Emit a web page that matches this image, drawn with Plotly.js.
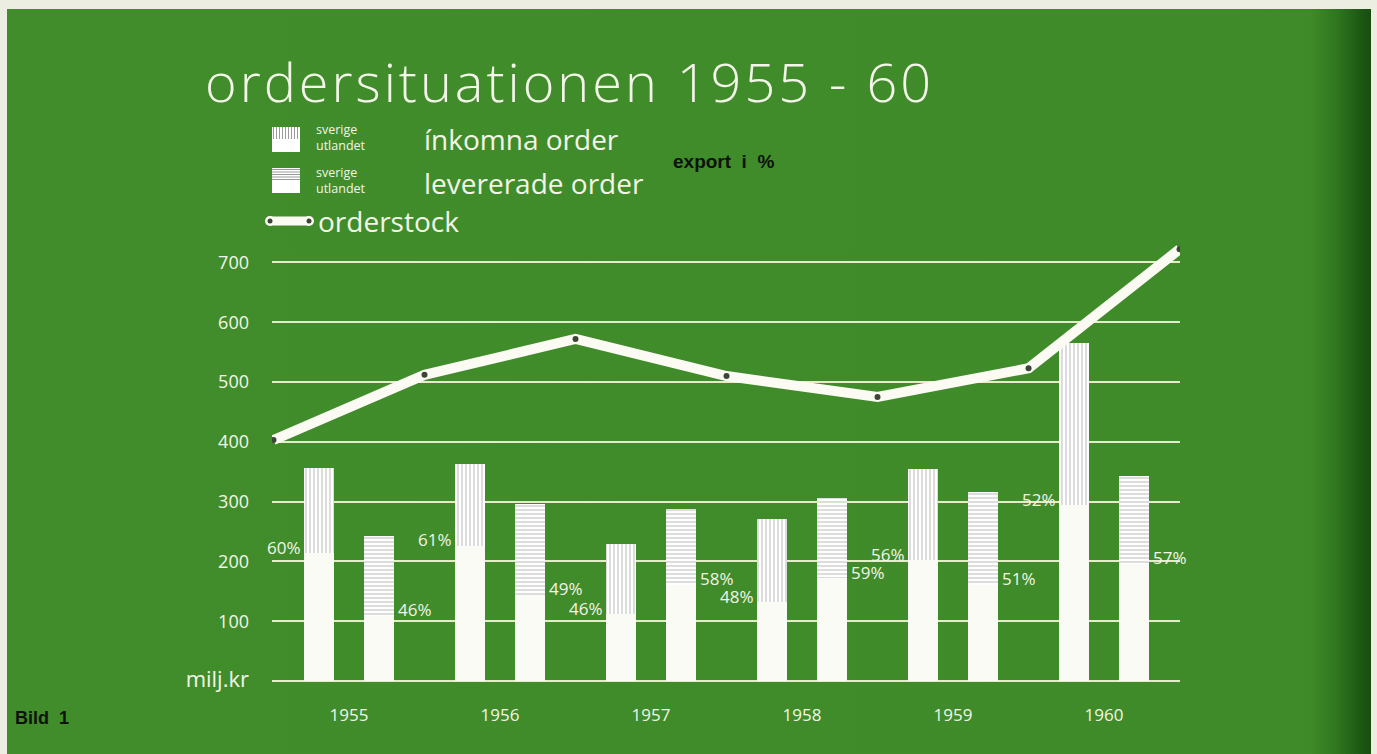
<!DOCTYPE html>
<html>
<head>
<meta charset="utf-8">
<script src="https://cdn.plot.ly/plotly-3.0.1.min.js"></script>
<style>
  html, body { margin: 0; padding: 0; background: #eceee2; }
  #wrap { position: relative; width: 1377px; height: 754px; overflow: hidden; }
  #panel { position: absolute; left: 7px; top: 9px; width: 1364px; height: 745px;
    background: linear-gradient(to right, #418d2b 0%, #3f8b29 95.5%, #2f761f 97.5%, #1f5c15 99%, #184c10 100%); }
  #chart { position: absolute; left: 0; top: 0; width: 1377px; height: 754px; }
</style>
</head>
<body>
<div id="wrap"><div id="panel"></div><div id="chart"></div></div>
<script>
// ---- data (milj. kr) ----
const years = [1955, 1956, 1957, 1958, 1959, 1960];
const yearLabels = ['1955', '1956', '1957', '1958', '1959', '1960'];
// inkomna order (incoming orders)
const inkomnaUtlandet = [214, 226, 112, 132, 202, 294];
const inkomnaSverige  = [142, 137, 117, 139, 153, 271];
// levererade order (delivered orders)
const levUtlandet = [109, 144, 161, 172, 161, 196];
const levSverige  = [133, 152, 127, 134, 155, 147];
// export i % labels
const inkomnaExportPct = [60, 61, 46, 48, 56, 52];
const levExportPct     = [46, 49, 58, 59, 51, 57];
// orderstock at year end (1954 .. 1960)
const orderstockYears = [1954, 1955, 1956, 1957, 1958, 1959, 1960];
const orderstock = [403, 512, 572, 510, 475, 523, 722];
// axis ticks
const yTickVals = [0, 100, 200, 300, 400, 500, 600, 700];
const yTickText = ['<span style="font-size:22px">milj.kr</span>', '100', '200', '300', '400', '500', '600', '700'];

// ---- layout constants ----
const FONT = 'Open Sans, Lato, DejaVu Sans, sans-serif';
const TXT = '#f3f5e8';
const GRID = '#e4ecc8';
const BAR_OFF = 0.2, BAR_W = 0.2;
const L = 272, R = 197, T = 244, B = 73, W = 1377 - L - R, H = 754 - T - B;
const px = v => (v - L) / W;            // page px -> paper x
const py = v => (754 - B - v) / H;      // page px -> paper y

const xInk = years.map(y => y - BAR_OFF);
const xLev = years.map(y => y + BAR_OFF);

const vPattern = {shape: '|', fgcolor: '#8c8c8c', bgcolor: '#ffffff', size: 4, solidity: 0.3, fillmode: 'overlay'};
const hPattern = {shape: '-', fgcolor: '#8c8c8c', bgcolor: '#ffffff', size: 4, solidity: 0.3, fillmode: 'overlay'};

const traces = [
  {type: 'bar', x: xInk, y: inkomnaUtlandet, width: BAR_W, name: 'inkomna utlandet',
   marker: {color: '#fbfbf6', line: {width: 0}}, hoverinfo: 'skip'},
  {type: 'bar', x: xInk, y: inkomnaSverige, width: BAR_W, name: 'inkomna sverige',
   marker: {color: '#ffffff', pattern: vPattern, line: {width: 0}}, hoverinfo: 'skip'},
  {type: 'bar', x: xLev, y: levUtlandet, width: BAR_W, name: 'levererade utlandet',
   marker: {color: '#fbfbf6', line: {width: 0}}, hoverinfo: 'skip'},
  {type: 'bar', x: xLev, y: levSverige, width: BAR_W, name: 'levererade sverige',
   marker: {color: '#ffffff', pattern: hPattern, line: {width: 0}}, hoverinfo: 'skip'},
  {type: 'scatter', mode: 'lines+markers', x: orderstockYears.map(y => y + 0.5), y: orderstock,
   name: 'orderstock', line: {color: '#fbfbf4', width: 10},
   marker: {color: '#3d4636', size: 6, line: {width: 0}}, hoverinfo: 'skip'}
];

// percentage annotations
const annotations = [];
years.forEach((yr, i) => {
  annotations.push({x: yr - BAR_OFF - BAR_W / 2, y: inkomnaUtlandet[i], xref: 'x', yref: 'y',
    text: inkomnaExportPct[i] + '%', showarrow: false, xanchor: 'right', yanchor: 'middle',
    xshift: -1, yshift: 6, font: {family: FONT, size: 17, color: TXT}});
  annotations.push({x: yr + BAR_OFF + BAR_W / 2, y: levUtlandet[i], xref: 'x', yref: 'y',
    text: levExportPct[i] + '%', showarrow: false, xanchor: 'left', yanchor: 'middle',
    xshift: 2, yshift: 6, font: {family: FONT, size: 17, color: TXT}});
});

// legend texts
function note(text, x, y, size, extra) {
  return Object.assign({xref: 'paper', yref: 'paper', x: px(x), y: py(y), text: text, showarrow: false,
    xanchor: 'left', yanchor: 'middle', align: 'left', font: {family: FONT, size: size, color: TXT}}, extra || {});
}
annotations.push(note('sverige<br>utlandet', 314, 138, 12.5));
annotations.push(note('ínkomna order', 422, 139, 28));
annotations.push(note('sverige<br>utlandet', 314, 181, 12.5));
annotations.push(note('levererade order', 422, 183, 28));
annotations.push(note('orderstock', 316, 221, 28));
annotations.push(note('<b>export  i  %</b>', 671, 161, 19, {font: {family: 'Liberation Sans, Arial, sans-serif', size: 19, color: '#0d120a'}}));
annotations.push(note('<b>Bild  1</b>', 13, 718, 18, {font: {family: 'Liberation Sans, Arial, sans-serif', size: 18, color: '#0d120a'}}));

// legend icons (decoration, paper coordinates)
const shapes = [];
function rectPx(x0, y0, x1, y1, color) {
  shapes.push({type: 'rect', xref: 'paper', yref: 'paper', x0: px(x0), x1: px(x1), y0: py(y1), y1: py(y0),
    fillcolor: color, line: {width: 0}, layer: 'above'});
}
function linePx(x0, y0, x1, y1, color, w) {
  shapes.push({type: 'line', xref: 'paper', yref: 'paper', x0: px(x0), x1: px(x1), y0: py(y0), y1: py(y1),
    line: {color: color, width: w}, layer: 'above'});
}
// icon 1: vertical hatch on top
rectPx(272, 127, 300, 152, '#ffffff');
for (let xx = 273.5; xx < 300; xx += 3) linePx(xx, 127, xx, 139, '#9a9a9a', 1);
// icon 2: horizontal hatch on top
rectPx(272, 168, 300, 193, '#ffffff');
for (let yy = 169.5; yy < 181; yy += 2.5) linePx(272, yy, 300, yy, '#9a9a9a', 1);
// orderstock icon
linePx(270, 221, 309, 221, '#fbfbf4', 9);
shapes.push({type: 'circle', xref: 'paper', yref: 'paper', x0: px(265), x1: px(275), y0: py(226), y1: py(216),
  fillcolor: '#fbfbf4', line: {width: 0}, layer: 'above'});
shapes.push({type: 'circle', xref: 'paper', yref: 'paper', x0: px(304), x1: px(314), y0: py(226), y1: py(216),
  fillcolor: '#fbfbf4', line: {width: 0}, layer: 'above'});
shapes.push({type: 'circle', xref: 'paper', yref: 'paper', x0: px(267.5), x1: px(272.5), y0: py(223.5), y1: py(218.5),
  fillcolor: '#3d4636', line: {width: 0}, layer: 'above'});
shapes.push({type: 'circle', xref: 'paper', yref: 'paper', x0: px(306.5), x1: px(311.5), y0: py(223.5), y1: py(218.5),
  fillcolor: '#3d4636', line: {width: 0}, layer: 'above'});

const layout = {
  width: 1377, height: 754,
  margin: {l: L, r: R, t: T, b: B, pad: 0},
  paper_bgcolor: 'rgba(0,0,0,0)', plot_bgcolor: 'rgba(0,0,0,0)',
  barmode: 'stack', bargap: 0,
  showlegend: false,
  title: {text: '<span style="letter-spacing:3px">ordersituationen 1955 - 60</span>', xref: 'container', yref: 'container',
    x: 205 / 1377, xanchor: 'left', y: 1 - 83 / 754, yanchor: 'middle',
    font: {family: FONT, size: 54, color: TXT, weight: 300}},
  xaxis: {range: [1954.49, 1960.503], tickvals: years, ticktext: yearLabels,
    showgrid: false, zeroline: false, showline: false, ticks: '',
    ticklabelstandoff: 22, tickfont: {family: FONT, size: 17, color: TXT}, fixedrange: true},
  yaxis: {range: [0, 730.8], tickvals: yTickVals, ticktext: yTickText,
    showgrid: true, gridcolor: GRID, gridwidth: 2,
    zeroline: true, zerolinecolor: GRID, zerolinewidth: 2, showline: false, ticks: '',
    ticklabelstandoff: 22, tickfont: {family: FONT, size: 18, color: TXT}, fixedrange: true},
  annotations: annotations,
  shapes: shapes
};

Plotly.newPlot('chart', traces, layout, {displayModeBar: false, staticPlot: true});
</script>
</body>
</html>
